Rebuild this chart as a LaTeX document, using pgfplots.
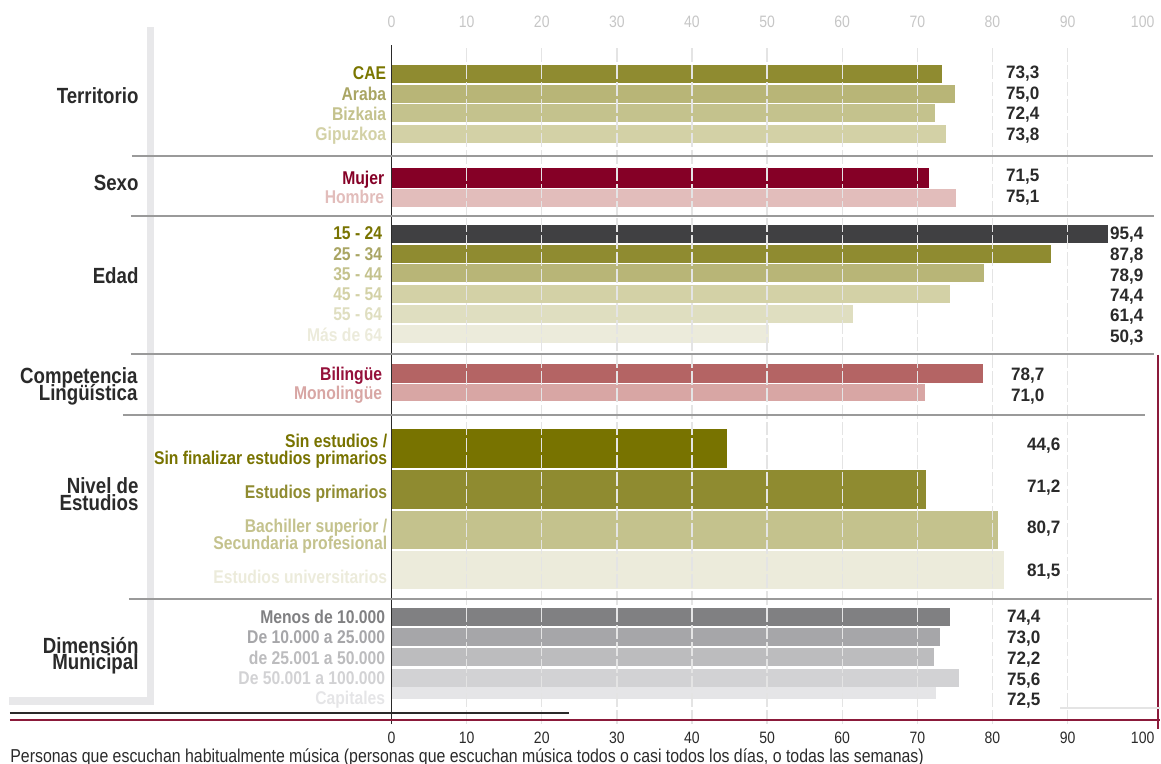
\documentclass[border=0pt]{standalone}
\usepackage{fontspec}
\setmainfont{Liberation Sans}[FakeStretch=0.85]
\newfontfamily\valfont{Liberation Sans}[FakeStretch=0.95]
\usepackage{pgfplots}
\pgfplotsset{compat=1.18}

\definecolor{cOl1}{HTML}{8F8B30}
\definecolor{cOl2}{HTML}{B8B577}
\definecolor{cOl3}{HTML}{C4C28D}
\definecolor{cOl4}{HTML}{D3D1A6}
\definecolor{cOl5}{HTML}{DFDEC0}
\definecolor{cOl6}{HTML}{ECEBDB}
\definecolor{cOl0}{HTML}{787300}
\definecolor{cLab1}{HTML}{7A7600}
\definecolor{cLab2}{HTML}{A9A563}
\definecolor{cMuj}{HTML}{850026}
\definecolor{cHom}{HTML}{E2BDBB}
\definecolor{cDark}{HTML}{404042}
\definecolor{cBil}{HTML}{B46464}
\definecolor{cBilL}{HTML}{95103A}
\definecolor{cMon}{HTML}{D8A6A4}
\definecolor{cG1}{HTML}{808082}
\definecolor{cG2}{HTML}{A6A6A9}
\definecolor{cG3}{HTML}{BCBCBE}
\definecolor{cG4}{HTML}{D2D2D4}
\definecolor{cG5}{HTML}{E5E5E7}
\definecolor{cTxt}{HTML}{2A2A2A}
\definecolor{cSep}{HTML}{9A9A9A}
\definecolor{cGrid}{HTML}{E4E4E4}
\definecolor{cFrame}{HTML}{E8E8EA}
\definecolor{cCrim}{HTML}{8B1A3A}
\definecolor{cTopTick}{HTML}{C6C6C6}

\begin{document}
\begin{tikzpicture}
% ---------- main axis (bars) ----------
\begin{axis}[
  at={(196pt,-362.5pt)}, anchor=south west,
  scale only axis, width=376pt, height=340pt,
  xmin=0, xmax=100, ymin=-725, ymax=-45,
  xbar, bar shift=0pt,
  axis y line*=left, axis x line*=bottom,
  x axis line style={draw=none},
  y axis line style={draw=cTxt, line width=0.9pt},
  ytick=\empty,
  xtick={0,10,...,90}, extra x ticks={100}, extra x tick style={grid=none},
  major tick length=0pt,
  xmajorgrids, grid style={draw=cGrid, line width=0.7pt, dash pattern=on 7pt off 1.5pt},
  axis on top, clip=false,
  /pgf/number format/assume math mode=true,
  xticklabel style={font=\fontsize{8.25pt}{9pt}\selectfont, text=cTxt, anchor=center, yshift=-7pt},
]
% Territorio
\addplot[fill=cOl1, draw=none, bar width=17.7] coordinates {(73.3,-73.85)};
\addplot[fill=cOl2, draw=none, bar width=17.7] coordinates {(75.0,-93.85)};
\addplot[fill=cOl3, draw=none, bar width=17.7] coordinates {(72.4,-113.15)};
\addplot[fill=cOl4, draw=none, bar width=17.7] coordinates {(73.8,-133.85)};
% Sexo
\addplot[fill=cMuj, draw=none, bar width=19.5] coordinates {(71.5,-178)};
\addplot[fill=cHom, draw=none, bar width=18] coordinates {(75.1,-198)};
% Edad
\addplot[fill=cDark, draw=none, bar width=18] coordinates {(95.4,-234)};
\addplot[fill=cOl1, draw=none, bar width=18] coordinates {(87.8,-254)};
\addplot[fill=cOl2, draw=none, bar width=18] coordinates {(78.9,-273)};
\addplot[fill=cOl4, draw=none, bar width=18] coordinates {(74.4,-294)};
\addplot[fill=cOl5, draw=none, bar width=18] coordinates {(61.4,-314)};
\addplot[fill=cOl6, draw=none, bar width=18] coordinates {(50.3,-334)};
% Competencia
\addplot[fill=cBil, draw=none, bar width=19.7] coordinates {(78.7,-373.85)};
\addplot[fill=cMon, draw=none, bar width=17.4] coordinates {(71.0,-393)};
% Nivel de estudios
\addplot[fill=cOl0, draw=none, bar width=38.7] coordinates {(44.6,-449.35)};
\addplot[fill=cOl1, draw=none, bar width=39] coordinates {(71.2,-490.5)};
\addplot[fill=cOl3, draw=none, bar width=38] coordinates {(80.7,-531)};
\addplot[fill=cOl6, draw=none, bar width=38] coordinates {(81.5,-571)};
% Dimension municipal
\addplot[fill=cG1, draw=none, bar width=17.7] coordinates {(74.4,-617.85)};
\addplot[fill=cG2, draw=none, bar width=17.7] coordinates {(73.0,-637.85)};
\addplot[fill=cG3, draw=none, bar width=17.7] coordinates {(72.2,-657.85)};
\addplot[fill=cG4, draw=none, bar width=17.7] coordinates {(75.6,-678.85)};
\addplot[fill=cG5, draw=none, bar width=11.7] coordinates {(72.5,-694.15)};
\end{axis}
% ---------- top tick labels ----------
\begin{axis}[
  at={(196pt,-362.5pt)}, anchor=south west,
  scale only axis, width=376pt, height=340pt,
  xmin=0, xmax=100, ymin=-725, ymax=-45,
  axis x line*=top, x axis line style={draw=none},
  hide y axis,
  xtick={0,10,...,100}, major tick length=0pt,
  /pgf/number format/assume math mode=true,
  xticklabel style={font=\fontsize{8.25pt}{9pt}\selectfont, text=cTopTick, anchor=center, yshift=11.5pt},
]
\end{axis}
% ---------- decorations and text, in pixel units ----------
\begin{scope}[x=0.5pt,y=-0.5pt,
  cat/.style={anchor=base east, inner sep=0pt, font=\bfseries\fontsize{9.25pt}{10pt}\selectfont},
  grp/.style={anchor=base east, inner sep=0pt, text=cTxt, font=\bfseries\fontsize{11pt}{12pt}\selectfont},
  valw/.style={anchor=base west, inner sep=0pt, text=cTxt, font=\valfont\bfseries\fontsize{9pt}{10pt}\selectfont},
  vale/.style={anchor=base east, inner sep=0pt, text=cTxt, font=\valfont\bfseries\fontsize{9pt}{10pt}\selectfont}]
\path[use as bounding box] (0,0) rectangle (1161,764);
% frame
\fill[cFrame] (147,27) rectangle (154,706);
\fill[cFrame] (9,698) rectangle (154,706);
% separators
\draw[cSep, line width=1pt] (132,156) -- (1154,156);
\draw[cSep, line width=1pt] (131,216) -- (1155,216);
\draw[cSep, line width=1pt] (131,354) -- (1155,354);
\draw[cSep, line width=1pt] (123,415) -- (1146,415);
\draw[cSep, line width=1pt] (129,600) -- (1153,600);
% bottom lines
\draw[cTxt, line width=0.9pt] (10,714) -- (570,714);
\draw[cCrim, line width=1.1pt] (10,721) -- (1161,721);
\draw[cCrim, line width=1.1pt] (1159,355) -- (1159,730);
\draw[cGrid, line width=1pt] (1061,709) -- (1161,709);
% group labels
\node[grp] at (139,104) {Territorio};
\node[grp] at (139,190.7) {Sexo};
\node[grp] at (139,284) {Edad};
\node[grp] at (138,384) {Competencia};
\node[grp] at (138,400.7) {Lingüística};
\node[grp] at (139,494) {Nivel de};
\node[grp] at (139,510.7) {Estudios};
\node[grp] at (139,654) {Dimensión};
\node[grp] at (139,670.7) {Municipal};
% category labels
\node[cat, text=cLab1] at (387,80) {CAE};
\node[cat, text=cLab2] at (387,100.7) {Araba};
\node[cat, text=cOl3] at (387,120.7) {Bizkaia};
\node[cat, text=cOl4] at (387,141) {Gipuzkoa};
\node[cat, text=cMuj] at (385,185) {Mujer};
\node[cat, text=cHom] at (385,203.5) {Hombre};
\node[cat, text=cOl0] at (383,240) {15 - 24};
\node[cat, text=cLab2] at (383,260.7) {25 - 34};
\node[cat, text=cOl3] at (383,280.7) {35 - 44};
\node[cat, text=cOl4] at (383,301) {45 - 54};
\node[cat, text=cOl5] at (383,321) {55 - 64};
\node[cat, text=cOl6] at (383,342) {Más de 64};
\node[cat, text=cBilL] at (383,380.7) {Bilingüe};
\node[cat, text=cMon] at (383,400) {Monolingüe};
\node[cat, text=cOl0] at (388,448.3) {Sin estudios /};
\node[cat, text=cOl0] at (388,465.5) {Sin finalizar estudios primarios};
\node[cat, text=cOl1] at (388,499) {Estudios primarios};
\node[cat, text=cOl3] at (388,533.3) {Bachiller superior /};
\node[cat, text=cOl3] at (388,550) {Secundaria profesional};
\node[cat, text=cOl6] at (388,584) {Estudios universitarios};
\node[cat, text=cG1] at (386,624.3) {Menos de 10.000};
\node[cat, text=cG2] at (386,644.3) {De 10.000 a 25.000};
\node[cat, text=cG3] at (386,665) {de 25.001 a 50.000};
\node[cat, text=cG4] at (386,685) {De 50.001 a 100.000};
\node[cat, text=cG5] at (386,705) {Capitales};
% value labels
\node[valw] at (1007,78.3) {73,3};
\node[valw] at (1007,99.3) {75,0};
\node[valw] at (1007,120) {72,4};
\node[valw] at (1007,141) {73,8};
\node[valw] at (1007,181.7) {71,5};
\node[valw] at (1007,202.7) {75,1};
\node[vale] at (1145,240) {95,4};
\node[vale] at (1145,260.7) {87,8};
\node[vale] at (1145,281.7) {78,9};
\node[vale] at (1145,302) {74,4};
\node[vale] at (1145,322.3) {61,4};
\node[vale] at (1145,343.3) {50,3};
\node[valw] at (1012,380.7) {78,7};
\node[valw] at (1012,401.7) {71,0};
\node[valw] at (1028,450.7) {44,6};
\node[valw] at (1028,492.7) {71,2};
\node[valw] at (1028,534.3) {80,7};
\node[valw] at (1028,576.7) {81,5};
\node[valw] at (1008,623.3) {74,4};
\node[valw] at (1008,644.3) {73,0};
\node[valw] at (1008,665) {72,2};
\node[valw] at (1008,686) {75,6};
\node[valw] at (1008,706.7) {72,5};
% caption
\node[anchor=base west, inner sep=0pt, text=cTxt, font=\fontsize{9.35pt}{10pt}\selectfont] at (10,763) {Personas que escuchan habitualmente música (personas que escuchan música todos o casi todos los días, o todas las semanas)};
\end{scope}
\end{tikzpicture}
\end{document}
